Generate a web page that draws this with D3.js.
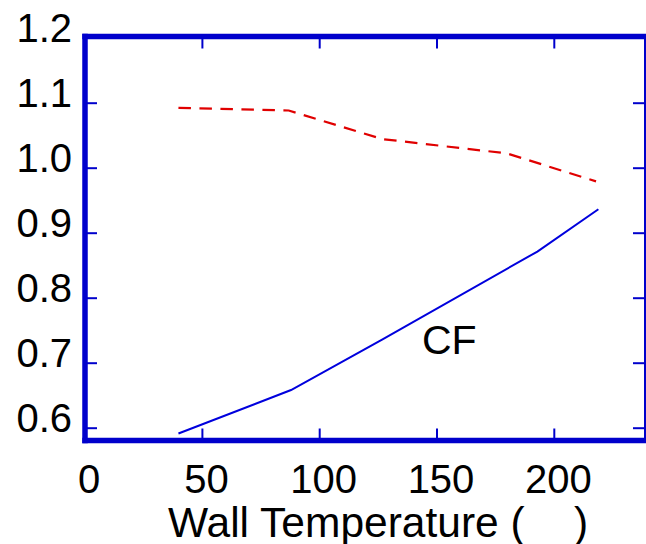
<!DOCTYPE html>
<html>
<head>
<meta charset="utf-8">
<script src="https://cdn.jsdelivr.net/npm/d3@7"></script>
<style>
  html, body { margin: 0; padding: 0; background: #fff; }
  svg { display: block; }
  text { font-family: "Liberation Sans", Arial, sans-serif; fill: #000; }
</style>
</head>
<body>
<svg id="chart" width="646" height="544"></svg>
<script>
// ---- data ----
const cfTemps   = [40, 88, 127, 193, 219];
const cfValues  = [0.591, 0.658, 0.736, 0.871, 0.936];
const redTemps  = [40, 87, 127, 180, 218];
const redValues = [1.092, 1.088, 1.044, 1.022, 0.979];
const xTicks = [0, 50, 100, 150, 200];
const yTicks = [0.6, 0.7, 0.8, 0.9, 1.0, 1.1, 1.2];
const xTitle = "Wall Temperature (";
const xTitleClose = ")";
const curveLabel = "CF";

// ---- layout ----
const svg = d3.select("#chart");
const pLeft = 85, pRight = 645, pTop = 36.5, pBottom = 440.5;
const x = d3.scaleLinear().domain([0, 50]).range([84.6, 201.9]);
const y = d3.scaleLinear().domain([0.6, 1.1]).range([427.7, 102.7]);
const frameColor = "#0000cc";

// ---- lines ----
const line = d3.line().x(d => x(d[0])).y(d => y(d[1]));
svg.append("path")
  .datum(redTemps.map((t, i) => [t, redValues[i]]))
  .attr("d", line)
  .attr("fill", "none")
  .attr("stroke", "#e00000")
  .attr("stroke-width", 2.2)
  .attr("stroke-dasharray", "12.5,8.5");
svg.append("path")
  .datum(cfTemps.map((t, i) => [t, cfValues[i]]))
  .attr("d", line)
  .attr("fill", "none")
  .attr("stroke", "#0000dd")
  .attr("stroke-width", 2);

// ---- axes (inward ticks) ----
const tickLen = 12;
function styleAxis(g) {
  g.select(".domain").remove();
  g.selectAll(".tick line").attr("stroke", frameColor).attr("stroke-width", 2);
}
const yInner = yTicks.filter(v => v < 1.15);
const xInner = xTicks.filter(v => v > 0);

const axL = svg.append("g").attr("transform", `translate(${pLeft},0)`)
  .call(d3.axisLeft(y).tickValues(yTicks).tickSize(-tickLen).tickPadding(13)
    .tickFormat(d3.format(".1f")));
styleAxis(axL);
axL.selectAll(".tick line").attr("display", d => d < 1.15 ? null : "none");
axL.selectAll(".tick text")
  .attr("font-size", 40).attr("dy", 4).attr("x", -13)
  .style("font-family", "'Liberation Sans', Arial, sans-serif");

const axR = svg.append("g").attr("transform", `translate(${pRight},0)`)
  .call(d3.axisRight(y).tickValues(yInner).tickSize(-tickLen).tickFormat(""));
styleAxis(axR);

const axB = svg.append("g").attr("transform", `translate(0,${pBottom})`)
  .call(d3.axisBottom(x).tickValues(xTicks).tickSize(-tickLen).tickFormat(d3.format("d")));
styleAxis(axB);
axB.selectAll(".tick line").attr("display", d => d > 0 ? null : "none");
axB.selectAll(".tick text")
  .attr("font-size", 40).attr("y", 0).attr("dy", 52.5).attr("dx", 4)
  .style("font-family", "'Liberation Sans', Arial, sans-serif");

const axT = svg.append("g").attr("transform", `translate(0,${pTop})`)
  .call(d3.axisTop(x).tickValues(xInner).tickSize(-tickLen).tickFormat(""));
styleAxis(axT);

// ---- frame ----
svg.append("line").attr("x1", pLeft).attr("x2", pLeft).attr("y1", pTop - 2.8).attr("y2", pBottom + 2.8)
  .attr("stroke", frameColor).attr("stroke-width", 5.5);
svg.append("line").attr("x1", pLeft - 2.7).attr("x2", pRight + 1).attr("y1", pTop).attr("y2", pTop)
  .attr("stroke", frameColor).attr("stroke-width", 5.5);
svg.append("line").attr("x1", pLeft - 2.7).attr("x2", pRight + 1).attr("y1", pBottom).attr("y2", pBottom)
  .attr("stroke", frameColor).attr("stroke-width", 5.5);
svg.append("line").attr("x1", pRight).attr("x2", pRight).attr("y1", pTop).attr("y2", pBottom)
  .attr("stroke", frameColor).attr("stroke-width", 2);

// ---- labels ----
svg.append("text").attr("x", 422).attr("y", 353.5).attr("font-size", 41).text(curveLabel);
const t = svg.append("text").attr("x", 168).attr("y", 537).attr("font-size", 42.5);
t.append("tspan").text(xTitle);
t.append("tspan").attr("x", 574).text(xTitleClose);
</script>
</body>
</html>
